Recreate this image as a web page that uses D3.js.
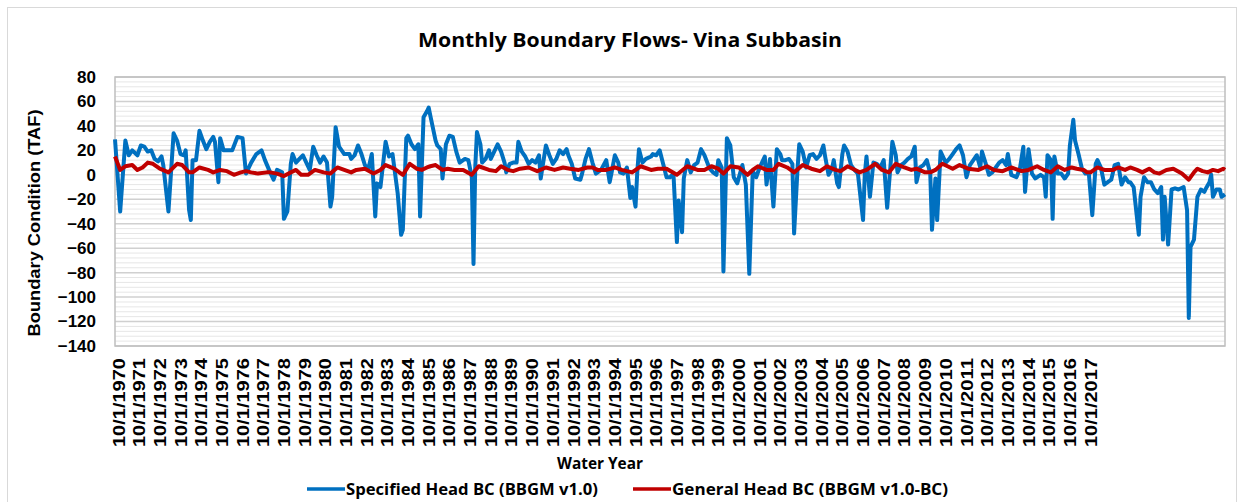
<!DOCTYPE html>
<html>
<head>
<meta charset="utf-8">
<script src="https://cdn.jsdelivr.net/npm/d3@7"></script>
<style>
  body { margin: 0; background: #fff; }
  svg { display: block; }
</style>
</head>
<body>
<div id="chart_div"></div>
<script>
// months counted from 10/1/1970 (0 = Oct 1970), values in TAF
const blueMonths = [0,3,6,8,10,13,15,17,19,21,23,25,27,28,31,34,36,38,40,41,43,44,45,47,49,51,53,55,57,58,60,61,63,66,68,71,74,76,79,82,85,87,90,92,94,97,98,100,102,103,105,107,109,111,113,115,117,119,121,123,125,126,128,130,133,136,137,139,141,143,145,147,149,151,152,154,157,159,161,164,166,167,169,170,172,174,176,177,179,181,182,183,186,187,189,190,192,194,196,198,200,202,203,205,207,208,209,210,212,213,215,217,218,220,222,224,226,227,229,231,233,234,236,238,240,242,244,246,247,250,252,254,256,258,260,262,263,265,267,270,271,273,275,277,279,280,282,285,287,288,290,292,293,295,297,299,300,302,303,304,306,308,311,312,314,316,318,320,322,324,326,327,329,330,332,334,336,338,340,342,345,347,349,350,352,353,355,357,359,361,364,366,368,370,372,374,377,378,380,382,384,386,387,389,391,393,394,396,397,399,401,403,405,407,409,411,412,414,416,417,419,420,422,423,425,427,429,431,434,435,436,438,440,442,444,446,448,451,453,454,456,458,460,462,464,465,467,469,471,473,474,476,477,479,480,482,484,486,488,490,492,494,496,498,500,502,503,505,507,509,511,513,515,517,518,520,523,525,527,528,530,532,534,537,539,540,541,543,544,545,547,549,551,553,554,556,557,559,561,563,565,567,569,570,572,574,576,578,580,582,584,586,588,589,591,594,595,597,599,601,603,605,607,608,609,611,613,615,617,620,622,623,624,626,628,630,632,633,635,636,637,639,641,642,644];
const blueValues = [29,-30,28,16,20,16,24,23,19,20,13,11,15,8,-30,34,28,17,16,20,-29,-37,12,12,36,28,21,27,31,27,-6,30,20,20,20,31,30,1,10,17,20,12,2,-4,4,2,-36,-30,9,17,10,13,16,10,4,23,16,10,15,10,-26,-18,39,23,17,17,13,16,24,17,8,5,17,-34,-7,-10,27,15,17,-15,-49,-45,30,32,25,21,25,-34,47,52,55,48,28,24,21,-3,25,32,31,19,10,12,13,12,-2,-73,6,35,25,10,13,20,13,19,25,19,10,2,9,10,10,27,19,15,9,12,10,16,-3,24,16,9,13,20,17,21,16,9,-3,-4,1,13,21,10,1,2,4,12,-6,1,16,10,2,1,6,-19,-10,-26,2,21,10,13,15,17,16,20,9,-2,-2,1,-55,-21,-47,-3,12,2,8,10,21,16,5,2,0,12,6,-79,30,24,-2,-7,8,-8,-81,3,-2,6,15,-8,13,-26,21,17,12,12,13,9,-48,5,25,19,6,16,17,13,16,24,15,0,5,12,-7,-10,17,24,19,8,4,1,-37,0,15,-18,10,9,6,12,-27,27,16,2,8,10,13,15,23,-6,6,8,12,1,-45,-3,-37,19,16,10,13,17,21,24,16,-2,8,12,16,6,19,10,0,2,6,10,12,8,17,0,-2,5,23,-14,21,1,-3,0,-2,-18,16,12,-36,15,1,1,-3,1,24,45,28,17,5,1,1,-33,9,12,6,-8,-6,-4,8,9,-8,-2,-6,-6,-10,-49,-18,-2,-6,-6,-12,-15,-10,-53,-18,-57,-12,-11,-12,-10,-29,-117,-59,-53,-18,-12,-14,-11,-6,0,-18,-12,-12,-18,-16];

const redMonths = [0,3,6,10,13,16,19,22,26,31,36,39,43,45,49,54,57,61,65,69,73,76,79,83,88,90,94,98,102,105,108,112,116,121,125,129,133,137,140,145,150,154,157,162,167,171,175,178,181,183,186,190,193,197,202,207,211,217,221,224,228,231,235,240,245,250,255,260,264,269,274,277,280,285,290,294,300,305,311,315,320,326,332,338,342,346,350,353,357,362,367,370,373,378,382,385,390,394,399,404,409,413,418,421,425,428,432,436,441,445,449,453,458,462,465,470,473,476,480,486,490,495,501,506,510,515,520,526,530,535,539,543,547,551,555,558,562,564,566,570,574,579,582,586,589,593,596,600,603,606,610,614,619,623,626,628,631,634,637,640,643,644];
const redValues = [15,4,7,8,4,6,10,9,5,2,9,8,2,2,6,4,2,4,3,0,2,3,2,1,2,2,1,-1,2,4,0,0,4,2,1,6,4,2,4,5,1,4,8,5,0,9,5,4,6,7,8,4,5,4,4,0,7,4,3,7,4,3,5,6,3,6,4,6,5,4,6,6,4,4,6,4,2,7,4,5,5,0,7,4,4,7,5,1,7,6,0,4,7,4,4,9,6,2,8,5,3,7,4,3,7,5,2,4,9,4,2,9,6,4,5,2,2,4,9,5,8,5,4,7,4,3,6,3,4,7,4,2,7,4,6,5,4,2,2,6,4,4,6,4,6,4,2,5,2,1,4,5,1,-4,2,5,3,2,4,3,5,4];

const firstYear = 1970;
const yearLabels = d3.range(firstYear, 2018).map(y => "10/1/" + y);
const yTicks = d3.range(-140, 81, 20);
const seriesNames = ["Specified Head BC (BBGM v1.0)", "General Head BC (BBGM v1.0-BC)"];

const W = 1244, H = 502;
const plot = { left: 115, right: 1225, top: 77, bottom: 346 };
const lastMonth = 644;

const svg = d3.select("#chart_div").append("svg")
  .attr("width", W).attr("height", H)
  .style("font-family", "'Liberation Sans', Arial, sans-serif");

// outer chart border
svg.append("rect")
  .attr("x", 7.5).attr("y", 7.5)
  .attr("width", 1229).attr("height", 500)
  .attr("fill", "#fff").attr("stroke", "#d9d9d9");

const x = d3.scaleLinear().domain([0, lastMonth]).range([plot.left, plot.right]);
const y = d3.scaleLinear().domain([-140, 80]).range([plot.bottom, plot.top]);

// minor gridlines
svg.append("g")
  .selectAll("line")
  .data(d3.range(-140, 81, 4).filter(v => v % 20 !== 0))
  .enter().append("line")
  .attr("x1", plot.left).attr("x2", plot.right)
  .attr("y1", d => y(d)).attr("y2", d => y(d))
  .attr("stroke", "#e6e6e6").attr("stroke-width", 1);

// major gridlines
svg.append("g")
  .selectAll("line")
  .data(yTicks)
  .enter().append("line")
  .attr("x1", plot.left).attr("x2", plot.right)
  .attr("y1", d => y(d)).attr("y2", d => y(d))
  .attr("stroke", "#d0d0d0").attr("stroke-width", 1.5);

// plot area border
svg.append("rect")
  .attr("x", plot.left).attr("y", plot.top)
  .attr("width", plot.right - plot.left).attr("height", plot.bottom - plot.top)
  .attr("fill", "none").attr("stroke", "#bfbfbf").attr("stroke-width", 1.5);

// y axis
const yAxis = svg.append("g")
  .attr("transform", "translate(" + plot.left + ",0)")
  .call(d3.axisLeft(y).tickValues(yTicks).tickSize(0).tickPadding(19));
yAxis.select(".domain").remove();
yAxis.selectAll("text")
  .attr("font-size", 17).attr("font-weight", "bold")
  .attr("fill", "#000")
  .style("font-family", "'Liberation Sans', Arial, sans-serif");

// x axis, one label per water year
const xAxis = svg.append("g")
  .attr("transform", "translate(0," + plot.bottom + ")")
  .call(d3.axisBottom(x)
    .tickValues(yearLabels.map((d, i) => i * 12))
    .tickFormat((d, i) => yearLabels[i])
    .tickSize(0));
xAxis.select(".domain").remove();
xAxis.selectAll("text")
  .attr("font-size", 17).attr("font-weight", "bold").attr("fill", "#000")
  .style("font-family", "'Liberation Sans', Arial, sans-serif")
  .attr("text-anchor", "start")
  .attr("dy", null).attr("y", null)
  .attr("textLength", 89).attr("lengthAdjust", "spacingAndGlyphs")
  .attr("transform", "translate(9,101) rotate(-90)");

// lines
const line = d3.line().x(d => x(d[0])).y(d => y(d[1]));
const blueData = d3.zip(blueMonths, blueValues);
const redData = d3.zip(redMonths, redValues);

svg.append("path").datum(blueData)
  .attr("d", line)
  .attr("fill", "none").attr("stroke", "#0070C0")
  .attr("stroke-width", 4).attr("stroke-linejoin", "round");

svg.append("path").datum(redData)
  .attr("d", line)
  .attr("fill", "none").attr("stroke", "#C00000")
  .attr("stroke-width", 4).attr("stroke-linejoin", "round");

// title
svg.append("text")
  .attr("x", 630).attr("y", 47)
  .attr("text-anchor", "middle")
  .attr("font-size", 20).attr("font-weight", "bold")
  .attr("textLength", 424).attr("lengthAdjust", "spacingAndGlyphs")
  .style("font-family", "'Open Sans', sans-serif")
  .text("Monthly Boundary Flows- Vina Subbasin");

// axis titles
svg.append("text")
  .attr("transform", "translate(40,223) rotate(-90)")
  .attr("text-anchor", "middle")
  .attr("font-size", 17).attr("font-weight", "bold")
  .attr("textLength", 227).attr("lengthAdjust", "spacingAndGlyphs")
  .text("Boundary Condition (TAF)");

svg.append("text")
  .attr("x", 600).attr("y", 469)
  .attr("text-anchor", "middle")
  .attr("font-size", 16).attr("font-weight", "bold")
  .attr("textLength", 86).attr("lengthAdjust", "spacingAndGlyphs")
  .style("font-family", "'Open Sans', sans-serif")
  .text("Water Year");

// legend
const legendItems = [
  { name: seriesNames[0], color: "#0070C0", x0: 307, textLen: 252 },
  { name: seriesNames[1], color: "#C00000", x0: 633, textLen: 276 }
];
const legend = svg.append("g");
legendItems.forEach(item => {
  legend.append("line")
    .attr("x1", item.x0).attr("x2", item.x0 + 38)
    .attr("y1", 489).attr("y2", 489)
    .attr("stroke", item.color).attr("stroke-width", 3.5);
  legend.append("text")
    .attr("x", item.x0 + 39).attr("y", 495)
    .attr("font-size", 16).attr("font-weight", "bold")
    .attr("textLength", item.textLen).attr("lengthAdjust", "spacingAndGlyphs")
    .style("font-family", "'Open Sans', sans-serif")
    .text(item.name);
});
</script>
</body>
</html>
